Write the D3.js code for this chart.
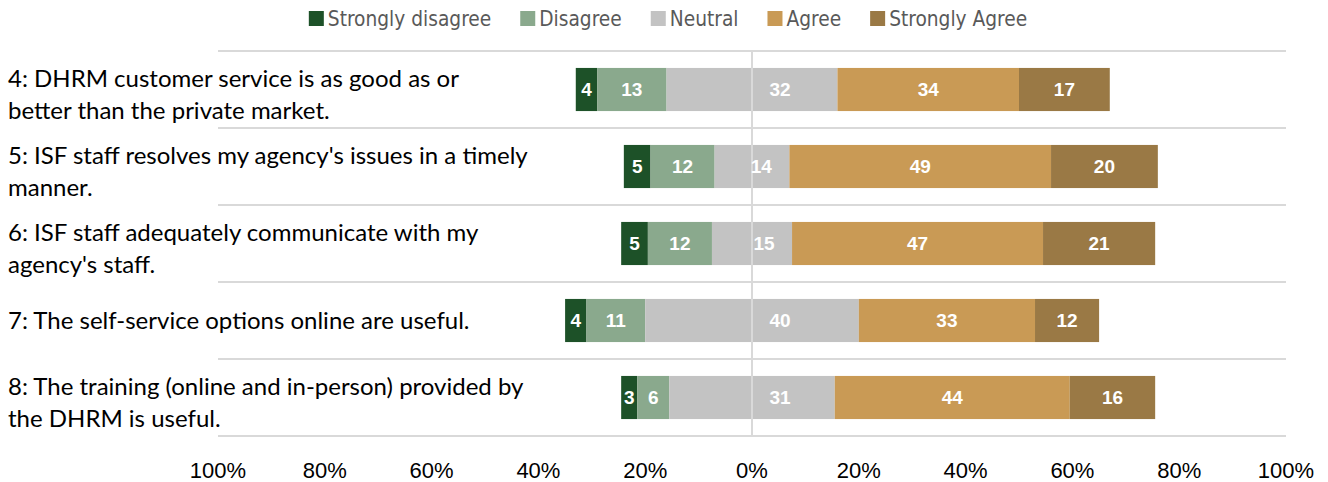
<!DOCTYPE html>
<html>
<head>
<meta charset="utf-8">
<script src="https://cdn.jsdelivr.net/npm/d3@7"></script>
<style>
  body { margin: 0; background: #fff; }
  .catLabel { font-family: Lato, "Open Sans", sans-serif; font-size: 24px; fill: #000; }
  .tickLabel { font-family: "Liberation Sans", Arial, sans-serif; font-size: 22px; fill: #000; }
  .valLabel { font-family: "Liberation Sans Narrow", "Liberation Sans", sans-serif; font-size: 19px; font-weight: bold; fill: #fff; }
  .legendLabel { font-family: "Liberation Sans Narrow", "DejaVu Sans Condensed", Roboto, sans-serif; font-size: 20.7px; fill: #595959; }
</style>
</head>
<body>
<script>
// survey statements, one array of text lines per row
const categories = [
    ["4: DHRM customer service is as good as or", "better than the private market."],
    ["5: ISF staff resolves my agency's issues in a timely", "manner."],
    ["6: ISF staff adequately communicate with my", "agency's staff."],
    ["7: The self-service options online are useful."],
    ["8: The training (online and in-person) provided by", "the DHRM is useful."]
];
const levels = ["Strongly disagree", "Disagree", "Neutral", "Agree", "Strongly Agree"];
const stronglyDisagree = [4, 5, 5, 4, 3];
const disagree = [13, 12, 12, 11, 6];
const neutral = [32, 14, 15, 40, 31];
const agree = [34, 49, 47, 33, 44];
const stronglyAgree = [17, 20, 21, 12, 16];
const tickValues = [-100, -80, -60, -40, -20, 0, 20, 40, 60, 80, 100];
const colors = ["#1d5128", "#8aa98d", "#c3c3c3", "#c99a55", "#9a7945"];

const w = 1328, h = 482;
const margin = {top: 51, right: 42, bottom: 46, left: 218};

const svg = d3.select("body")
    .append("svg")
    .attr("width", w)
    .attr("height", h);

let x = d3.scaleLinear()
    .domain([-100, 100])
    .range([margin.left, w - margin.right]);

let y = d3.scaleBand()
    .domain(d3.range(categories.length))
    .range([margin.top, h - margin.bottom]);

const barH = y.bandwidth() * 0.56;

// build segments: left edge is pushed back by the disagree values and half the neutral
let rows = categories.map((c, i) => {
    const vals = [stronglyDisagree[i], disagree[i], neutral[i], agree[i], stronglyAgree[i]];
    let pos = -(vals[0] + vals[1] + vals[2] / 2);
    return vals.map((v, k) => {
        const seg = {row: i, level: k, value: v, x0: pos, x1: pos + v};
        pos += v;
        return seg;
    });
});
let segments = rows.flat();

// horizontal gridlines at band edges
svg.append("g")
    .selectAll("line")
    .data(d3.range(categories.length + 1))
    .enter().append("line")
    .attr("x1", x(-100))
    .attr("x2", x(100))
    .attr("y1", i => i < categories.length ? y(i) : y(categories.length - 1) + y.bandwidth())
    .attr("y2", i => i < categories.length ? y(i) : y(categories.length - 1) + y.bandwidth())
    .attr("stroke", "#d9d9d9")
    .attr("stroke-width", 2);

svg.append("g")
    .selectAll("rect")
    .data(segments)
    .enter().append("rect")
    .attr("x", d => x(d.x0))
    .attr("width", d => x(d.x1) - x(d.x0))
    .attr("y", d => y(d.row) + (y.bandwidth() - barH) / 2)
    .attr("height", barH)
    .attr("fill", d => colors[d.level]);

// zero line
svg.append("line")
    .attr("x1", x(0))
    .attr("x2", x(0))
    .attr("y1", y.range()[0])
    .attr("y2", y.range()[1])
    .attr("stroke", "#d9d9d9")
    .attr("stroke-width", 2);

// value labels; neutral label sits in the right half of the neutral bar
svg.append("g")
    .selectAll("text")
    .data(segments)
    .enter().append("text")
    .attr("class", "valLabel")
    .attr("text-anchor", "middle")
    .attr("dy", "0.36em")
    .attr("x", d => {
        if (d.level === 2) {
            const half = x(d.x1) - x(0);
            return x(0) + Math.min(28, half - 28);
        }
        return (x(d.x0) + x(d.x1)) / 2;
    })
    .attr("y", d => y(d.row) + y.bandwidth() / 2)
    .text(d => d.value);

// category labels
let cat = svg.append("g")
    .selectAll("text")
    .data(categories)
    .enter().append("text")
    .attr("class", "catLabel")
    .attr("x", 8)
    .attr("y", (d, i) => y(i) + y.bandwidth() / 2);

cat.selectAll("tspan")
    .data(d => d.map((t, j) => ({t: t, j: j, n: d.length})))
    .enter().append("tspan")
    .attr("x", 8)
    .attr("dy", d => d.n === 1 ? "0.36em" : (d.j === 0 ? "-0.1em" : "1.33em"))
    .text(d => d.t);

// x tick labels
svg.append("g")
    .selectAll("text")
    .data(tickValues)
    .enter().append("text")
    .attr("class", "tickLabel")
    .attr("text-anchor", "middle")
    .attr("x", d => x(d))
    .attr("y", 478)
    .text(d => Math.abs(d) + "%");

// legend
let legend = svg.append("g");
let lx = 0;
levels.forEach((name, k) => {
    legend.append("rect")
        .attr("x", lx)
        .attr("y", 11)
        .attr("width", 15)
        .attr("height", 15)
        .attr("fill", colors[k]);
    let t = legend.append("text")
        .attr("class", "legendLabel")
        .attr("x", lx + 19)
        .attr("y", 26)
        .text(name);
    lx += 19 + t.node().getComputedTextLength() + 29;
});
lx -= 29;
legend.attr("transform", `translate(${668 - lx / 2}, 0)`);
</script>
</body>
</html>
